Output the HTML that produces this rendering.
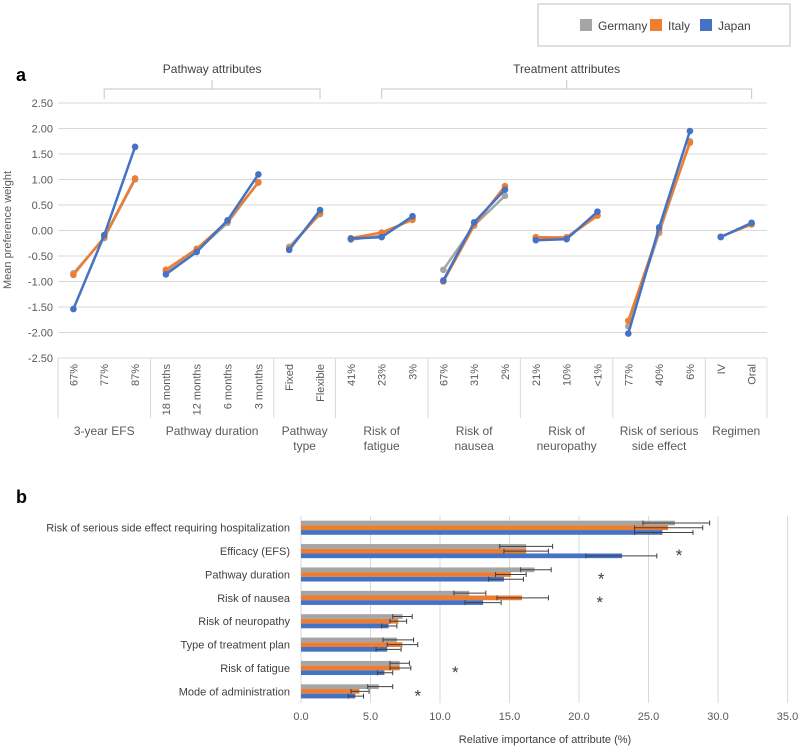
<!DOCTYPE html>
<html><head><meta charset="utf-8"><style>
body{margin:0;background:#fff;}
svg{display:block;font-family:"Liberation Sans",Arial,sans-serif;}
</style></head><body>
<svg id="chart" width="800" height="748" viewBox="0 0 800 748">
<g>
<rect x="538" y="4" width="252" height="42" fill="#fff" stroke="#bfbfbf"/>
<rect x="580" y="19" width="12" height="12" fill="#a5a5a5"/>
<text x="598" y="30" font-size="12" fill="#404040">Germany</text>
<rect x="650" y="19" width="12" height="12" fill="#ed7d31"/>
<text x="668" y="30" font-size="12" fill="#404040">Italy</text>
<rect x="700" y="19" width="12" height="12" fill="#4472c4"/>
<text x="718" y="30" font-size="12" fill="#404040">Japan</text>
</g>
<text x="16" y="81" font-size="18" font-weight="bold" fill="#000">a</text>
<text x="16" y="503" font-size="18" font-weight="bold" fill="#000">b</text>
<text transform="translate(11,230) rotate(-90)" text-anchor="middle" font-size="11" fill="#595959">Mean preference weight</text>
<g id="a"></g><g id="b"></g>
</svg>
<script>
const NS="http://www.w3.org/2000/svg";
function mk(tag,attrs,parent,txt){const e=document.createElementNS(NS,tag);for(const k in attrs)e.setAttribute(k,attrs[k]);if(txt!==undefined)e.textContent=txt;parent.appendChild(e);return e;}
// ---- Panel a data ----
const groupNames=["3-year EFS","Pathway duration","Pathway type","Risk of fatigue","Risk of nausea","Risk of neuropathy","Risk of serious side effect","Regimen"];
const groupLevels=[["67%","77%","87%"],["18 months","12 months","6 months","3 months"],["Fixed","Flexible"],["41%","23%","3%"],["67%","31%","2%"],["21%","10%","<1%"],["77%","40%","6%"],["IV","Oral"]];
const germanyA=[[-0.84,-0.15,1.0],[-0.8,-0.4,0.15,0.95],[-0.32,0.32],[-0.18,-0.1,0.24],[-0.77,0.1,0.68],[-0.15,-0.13,0.3],[-1.88,-0.05,1.75],[-0.12,0.12]];
const italyA=[[-0.87,-0.13,1.02],[-0.77,-0.36,0.18,0.94],[-0.35,0.34],[-0.15,-0.04,0.21],[-1.0,0.1,0.87],[-0.13,-0.14,0.29],[-1.77,0.0,1.72],[-0.12,0.12]];
const japanA=[[-1.54,-0.09,1.64],[-0.86,-0.42,0.2,1.1],[-0.38,0.4],[-0.16,-0.13,0.28],[-0.98,0.16,0.8],[-0.19,-0.17,0.37],[-2.02,0.06,1.95],[-0.13,0.15]];
const yTicksA=[2.5,2,1.5,1,0.5,0,-0.5,-1,-1.5,-2,-2.5];
const superGroups=[{name:"Pathway attributes",from:0,to:2},{name:"Treatment attributes",from:3,to:7}];
const A=document.getElementById('a');
const aL=58,aR=767,aT=103,aB=358;
const yA=v=>aT+(2.5-v)/5*(aB-aT);
const nCat=groupLevels.reduce((s,g)=>s+g.length,0);
const slot=(aR-aL)/nCat;
const xA=i=>aL+slot*(i+0.5);
yTicksA.forEach(t=>{
 const l=mk('line',{x1:aL,x2:aR,y1:yA(t),y2:yA(t),stroke:'#d9d9d9','stroke-width':1},A);
 
 const tx=mk('text',{x:aL-5,y:yA(t)+4,'text-anchor':'end','font-size':11,fill:'#595959'},A,t.toFixed(2));
 
});
let idx=0;const starts=[];
groupLevels.forEach((lv,g)=>{
 starts.push(idx);
 const x0=aL+slot*idx;
 const sep=mk('line',{x1:x0,x2:x0,y1:aB,y2:418,stroke:'#d9d9d9'},A);
 
 lv.forEach((s,j)=>{
  const x=xA(idx+j);
  const t=mk('text',{transform:`translate(${x+4},${aB+6}) rotate(-90)`,'text-anchor':'end','font-size':11,fill:'#595959'},A,s);
  
 });
 const cx=aL+slot*(idx+lv.length/2);
 const words=groupNames[g].length>13||groupNames[g].startsWith("Risk of")||groupNames[g]==="Pathway type"?splitName(groupNames[g]):[groupNames[g]];
 words.forEach((w,k)=>{const t=mk('text',{x:cx,y:435+k*15,'text-anchor':'middle','font-size':12,fill:'#595959'},A,w);
  });
 idx+=lv.length;
});
const endSep=mk('line',{x1:aR,x2:aR,y1:aB,y2:418,stroke:'#d9d9d9'},A);

function splitName(n){
 if(n==="Pathway type")return["Pathway","type"];
 if(n==="Risk of serious side effect")return["Risk of serious","side effect"];
 if(n.startsWith("Risk of"))return["Risk of",n.slice(8)];
 return[n];
}
superGroups.forEach(sg=>{
 const x1=xA(starts[sg.from]+1),lastG=groupLevels[sg.to];
 const x2=xA(starts[sg.to]+lastG.length-1);
 const cx=(x1+x2)/2;
 const p=mk('path',{d:`M${x1},99 V89 H${x2} V99 M${cx},89 V80`,fill:'none',stroke:'#d0d0d0','stroke-width':1.2},A);
 
 const t=mk('text',{x:cx,y:73,'text-anchor':'middle','font-size':12,fill:'#404040'},A,sg.name);
 
});
[[germanyA,'#a5a5a5','germany'],[italyA,'#ed7d31','italy'],[japanA,'#4472c4','japan']].forEach(([ser,col,nm])=>{
 ser.forEach((vals,g)=>{
  const pts=vals.map((v,j)=>[xA(starts[g]+j),yA(v)]);
  const pl=mk('polyline',{points:pts.map(p=>p.join(',')).join(' '),fill:'none',stroke:col,'stroke-width':2.5},A);
  
  pts.forEach(p=>{const c=mk('circle',{cx:p[0],cy:p[1],r:3.3,fill:col},A);
   });
 });
});
// ---- Panel b data ----
const attrs=["Risk of serious side effect requiring hospitalization","Efficacy (EFS)","Pathway duration","Risk of nausea","Risk of neuropathy","Type of treatment plan","Risk of fatigue","Mode of administration"];
const germanyB=[26.9,16.2,16.8,12.1,7.3,6.9,7.1,5.6];
const italyB=[26.4,16.2,15.1,15.9,7.0,7.3,7.1,4.2];
const japanB=[26.0,23.1,14.6,13.1,6.3,6.2,6.0,3.9];
const germanyLo=[24.6,14.3,15.8,11.0,6.6,5.9,6.4,4.8];
const germanyHi=[29.4,18.1,18.0,13.3,8.0,8.1,7.8,6.6];
const italyLo=[24.0,14.6,14.0,14.1,6.4,6.2,6.4,3.6];
const italyHi=[28.9,17.8,16.2,17.8,7.6,8.4,7.9,4.9];
const japanLo=[24.0,20.5,13.5,11.8,5.8,5.4,5.5,3.4];
const japanHi=[28.2,25.6,16.0,14.4,6.9,7.2,6.6,4.5];
const starRows=[1,2,3,6,7];
const starVals=[27.2,21.6,21.5,11.1,8.4];
const xTicksB=[0,5,10,15,20,25,30,35];
const B=document.getElementById('b');
const bL=301,bT=516,bB=703;
const xB=v=>bL+v*13.9;
const rowH=(bB-bT)/attrs.length;
xTicksB.forEach(t=>{
 if(t>0){const l=mk('line',{x1:xB(t),x2:xB(t),y1:bT,y2:bB,stroke:'#d9d9d9'},B);
 }
 const tx=mk('text',{x:xB(t),y:720,'text-anchor':'middle','font-size':11,fill:'#595959'},B,t.toFixed(1));
 
});
const ax=mk('line',{x1:bL,x2:bL,y1:bT,y2:bB,stroke:'#d9d9d9'},B);

const xt=mk('text',{x:545,y:743,'text-anchor':'middle','font-size':11,fill:'#404040'},B,'Relative importance of attribute (%)');

const bh=4.7;
attrs.forEach((a,i)=>{
 const cy=bT+rowH*(i+0.5);
 const t=mk('text',{x:290,y:cy+4,'text-anchor':'end','font-size':11,fill:'#404040'},B,a);
 
 [[germanyB,germanyLo,germanyHi,'#a5a5a5','germany'],[italyB,italyLo,italyHi,'#ed7d31','italy'],[japanB,japanLo,japanHi,'#4472c4','japan']].forEach(([v,lo,hi,col,nm],k)=>{
  const y=cy-7+k*bh;
  const r=mk('rect',{x:bL,y:y,width:xB(v[i])-bL,height:bh,fill:col},B);
  
  const ey=y+bh/2;
  const e=mk('path',{d:`M${xB(lo[i])},${ey} H${xB(hi[i])} M${xB(lo[i])},${ey-2.5} V${ey+2.5} M${xB(hi[i])},${ey-2.5} V${ey+2.5}`,stroke:'#404040','stroke-width':1,fill:'none'},B);
  
 });
});
starRows.forEach((r,k)=>{
 const cy=bT+rowH*(r+0.5);
 const s=mk('text',{x:xB(starVals[k]),y:cy+10,'text-anchor':'middle','font-size':17,fill:'#404040'},B,'*');
 
});
</script>
</body></html>
